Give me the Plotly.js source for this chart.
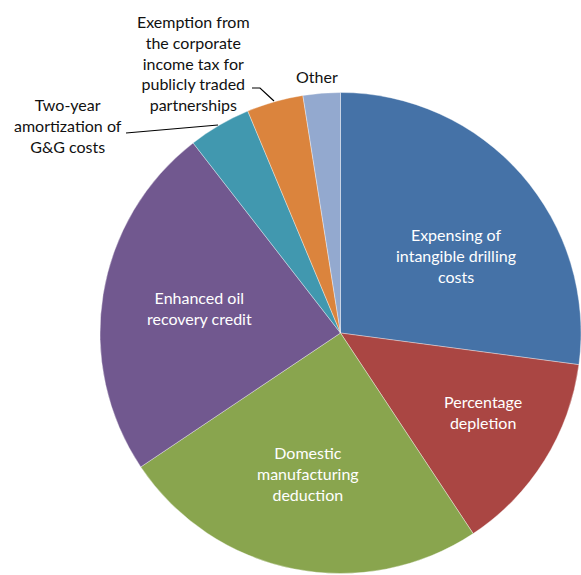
<!DOCTYPE html>
<html>
<head>
<meta charset="utf-8">
<script src="https://cdn.plot.ly/plotly-3.0.1.min.js"></script>
<style>html,body{margin:0;padding:0;background:#fff;}#chart{width:581px;height:575px;}</style>
</head>
<body>
<div id="chart"></div>
<script>
var categories = [
  "Expensing of intangible drilling costs",
  "Percentage depletion",
  "Domestic manufacturing deduction",
  "Enhanced oil recovery credit",
  "Two-year amortization of G&G costs",
  "Exemption from the corporate income tax for publicly traded partnerships",
  "Other"
];
var shares = [27.1, 13.6, 24.9, 23.9, 4.2, 3.8, 2.5];
var labelText = [
  "Expensing of<br>intangible drilling<br>costs",
  "Percentage<br>depletion",
  "Domestic<br>manufacturing<br>deduction",
  "Enhanced oil<br>recovery credit",
  "Two-year<br>amortization of<br>G&G costs",
  "Exemption from<br>the corporate<br>income tax for<br>publicly traded<br>partnerships",
  "Other"
];
var colors = ["#4572A7", "#AA4643", "#89A54E", "#71588F", "#4198AF", "#DB843D", "#93A9CF"];

var W = 581, H = 575;
function px(x){ return x / W; }
function py(y){ return 1 - y / H; }

// label anchor points (pixels) and whether inside (white) or outside (dark)
var labelPos = [[456,255,true],[483,412,true],[308,473,true],[199,308,true],[68,126,false],[194,63,false],[317,76,false]];

var annotations = labelText.map(function(t, i){
  var p = labelPos[i];
  return {
    xref: 'paper', yref: 'paper', x: px(p[0]), y: py(p[1]),
    xanchor: 'center', yanchor: 'middle', showarrow: false,
    text: t, align: 'center',
    font: {family: 'Lato, "Noto Sans", sans-serif', size: 16, color: p[2] ? '#ffffff' : '#111111'}
  };
});

var shapes = [
  {type: 'path', xref: 'paper', yref: 'paper',
   path: 'M' + px(126) + ',' + py(133) + ' L' + px(218) + ',' + py(125),
   line: {color: '#000', width: 1.2}},
  {type: 'path', xref: 'paper', yref: 'paper',
   path: 'M' + px(252) + ',' + py(88) + ' L' + px(260) + ',' + py(88) + ' L' + px(274) + ',' + py(101),
   line: {color: '#000', width: 1.2}}
];

var trace = {
  type: 'pie',
  labels: categories,
  values: shares,
  sort: false,
  direction: 'clockwise',
  rotation: 0,
  textinfo: 'none',
  hoverinfo: 'label+percent',
  marker: {colors: colors, line: {color: 'rgba(255,255,255,0.6)', width: 0.6}},
  domain: {x: [px(100), 1], y: [py(574), py(92)]},
  showlegend: false
};

Plotly.newPlot('chart', [trace], {
  width: W, height: H,
  margin: {l: 0, r: 0, t: 0, b: 0},
  paper_bgcolor: '#ffffff',
  showlegend: false,
  annotations: annotations,
  shapes: shapes
}, {displayModeBar: false, staticPlot: true});
</script>
</body>
</html>
